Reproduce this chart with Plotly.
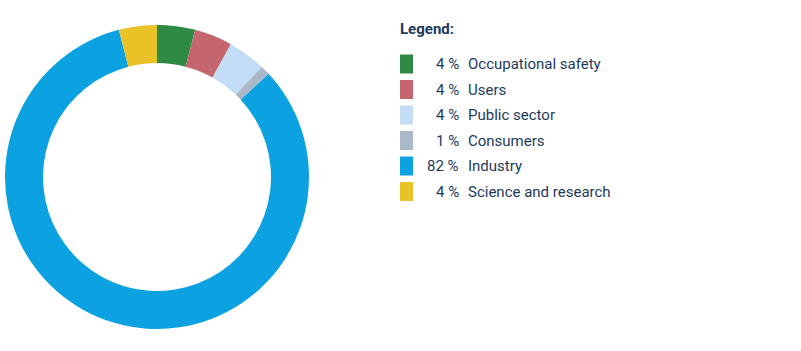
import plotly.graph_objects as go

labels = ["Occupational safety", "Users", "Public sector", "Consumers", "Industry", "Science and research"]
values = [4, 4, 4, 1, 82, 4]
pct_labels = ["4 %", "4 %", "4 %", "1 %", "82 %", "4 %"]
colors = ["#2f8a45", "#c5656e", "#c2ddf5", "#a9b9c9", "#0ca2e2", "#e8c227"]
legend_title = "Legend:"

W, H = 801, 351
text_color = "#1e3a5c"
FONT = "Roboto"
FS = 15

fig = go.Figure()
fig.add_trace(go.Pie(
    labels=labels, values=values, hole=0.75, sort=False, direction="clockwise",
    rotation=0, marker=dict(colors=colors, line=dict(width=0)),
    textinfo="none", hoverinfo="label+percent", showlegend=False,
    domain=dict(x=[5 / W, 309 / W], y=[22 / H, 326 / H]),
))

def px(x):
    return x / W

def py(y):
    return 1 - y / H

shapes = []
annotations = [dict(x=px(398), y=py(29), xref="paper", yref="paper", text="<b>" + legend_title + "</b>",
                    showarrow=False, xanchor="left", yanchor="middle",
                    font=dict(size=FS, color=text_color, family=FONT))]
for i, (lab, pct, col) in enumerate(zip(labels, pct_labels, colors)):
    yc = 64 + i * 25.5
    shapes.append(dict(type="rect", xref="paper", yref="paper",
                       x0=px(400), x1=px(413), y0=py(yc - 9.5), y1=py(yc + 9.5),
                       fillcolor=col, line=dict(width=0)))
    annotations.append(dict(x=px(461), y=py(yc), xref="paper", yref="paper", text=pct,
                            showarrow=False, xanchor="right", yanchor="middle",
                            font=dict(size=FS, color=text_color, family=FONT)))
    annotations.append(dict(x=px(466), y=py(yc), xref="paper", yref="paper", text=lab,
                            showarrow=False, xanchor="left", yanchor="middle",
                            font=dict(size=FS, color=text_color, family=FONT)))

fig.update_layout(width=W, height=H, margin=dict(l=0, r=0, t=0, b=0),
                  paper_bgcolor="white", plot_bgcolor="white",
                  shapes=shapes, annotations=annotations)
fig.write_html("out.html")
